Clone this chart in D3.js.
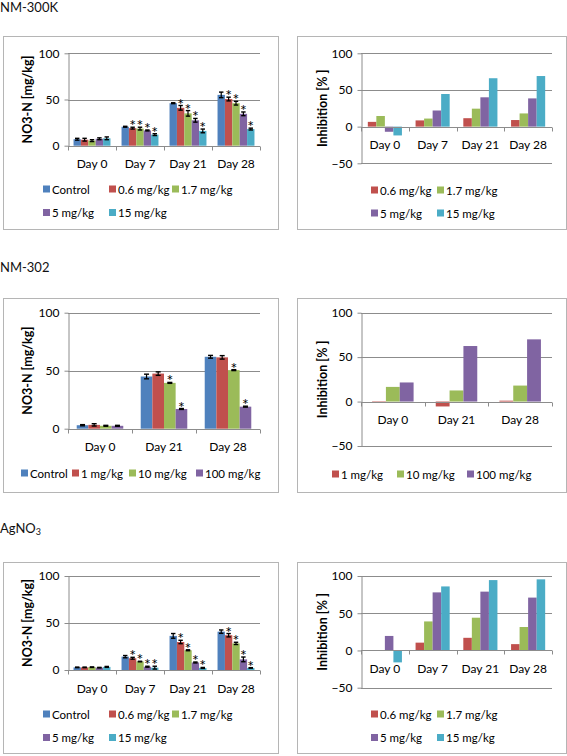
<!DOCTYPE html>
<html><head><meta charset="utf-8">
<script src="https://cdn.jsdelivr.net/npm/d3@7"></script>
<style>
html,body{margin:0;padding:0;background:#fff;}
svg{display:block;font-family:Lato,"Open Sans",sans-serif;}
</style></head><body>
<svg id="c" width="567" height="756"></svg>
<script>
// ---------- DATA ----------
const days4 = ["Day 0", "Day 7", "Day 21", "Day 28"];
const days3 = ["Day 0", "Day 21", "Day 28"];
const yTicksNO3 = [0, 50, 100];
const yTicksInh = [-50, 0, 50, 100];

// NM-300K, NO3-N [mg/kg]
const nm300kSeries = ["Control", "0.6 mg/kg", "1.7 mg/kg", "5 mg/kg", "15 mg/kg"];
const nm300kNO3 = [
  [7, 20.5, 46, 55],
  [6.5, 19, 41, 50.5],
  [5.5, 18.5, 35, 46],
  [7.5, 16.5, 27.5, 34.5],
  [8, 12, 16, 18]
];
const nm300kErr = [
  [1, 0.5, 0.5, 3],
  [1.5, 1, 2.5, 2],
  [1, 1.5, 3, 2],
  [1, 0.5, 2, 2],
  [1.5, 1, 2, 1]
];
const nm300kStars = [
  [0, 0, 0, 0],
  [0, 1, 1, 1],
  [0, 1, 1, 1],
  [0, 1, 1, 1],
  [0, 1, 1, 1]
];
// NM-300K, Inhibition [%]
const nm300kInhSeries = ["0.6 mg/kg", "1.7 mg/kg", "5 mg/kg", "15 mg/kg"];
const nm300kInh = [
  [6.5, 8.5, 11.5, 9],
  [14.5, 11, 24.5, 18],
  [-7, 22, 40, 38.5],
  [-12, 44.5, 66, 69]
];

// NM-302, NO3-N [mg/kg]
const nm302Series = ["Control", "1 mg/kg", "10 mg/kg", "100 mg/kg"];
const nm302NO3 = [
  [3, 45, 62],
  [3.3, 47.5, 61.5],
  [2.5, 39.5, 50.5],
  [2.5, 17, 19]
];
const nm302Err = [
  [0.5, 2, 1.2],
  [1, 1.5, 1.5],
  [0.4, 0.4, 0.4],
  [0.4, 0.4, 0.4]
];
const nm302Stars = [
  [0, 0, 0],
  [0, 0, 0],
  [0, 1, 1],
  [0, 1, 1]
];
// NM-302, Inhibition [%]
const nm302InhSeries = ["1 mg/kg", "10 mg/kg", "100 mg/kg"];
const nm302Inh = [
  [-1.5, -5.5, 1],
  [16.5, 12.5, 18],
  [21.5, 62.5, 70]
];

// AgNO3, NO3-N [mg/kg]
const agSeries = ["Control", "0.6 mg/kg", "1.7 mg/kg", "5 mg/kg", "15 mg/kg"];
const agNO3 = [
  [2.8, 14.2, 36.3, 40.8],
  [2.8, 12.5, 29.8, 37],
  [3, 9, 21, 28.3],
  [2.5, 3.5, 8, 11.3],
  [3.3, 2.5, 2.2, 2.2]
];
const agErr = [
  [0.3, 1.2, 2.5, 1.8],
  [0.3, 1, 1.8, 1.8],
  [0.3, 0.3, 0.5, 1.2],
  [0.3, 0.5, 0.5, 2.5],
  [0.5, 1.5, 0.5, 0.3]
];
const agStars = [
  [0, 0, 0, 0],
  [0, 1, 1, 1],
  [0, 1, 1, 1],
  [0, 1, 1, 1],
  [0, 1, 1, 1]
];
// AgNO3, Inhibition [%]
const agInhSeries = ["0.6 mg/kg", "1.7 mg/kg", "5 mg/kg", "15 mg/kg"];
const agInh = [
  [0, 10.5, 17, 8.5],
  [0, 39, 44, 31.5],
  [19.5, 78, 79, 71],
  [-16, 86, 94.5, 95.5]
];

const colorOf = {
  "Control": "#4F81BD",
  "0.6 mg/kg": "#C0504D", "1 mg/kg": "#C0504D",
  "1.7 mg/kg": "#9BBB59", "10 mg/kg": "#9BBB59",
  "5 mg/kg": "#8064A2", "100 mg/kg": "#8064A2",
  "15 mg/kg": "#4BACC6"
};

// ---------- DRAW ----------
const svg = d3.select("#c");
const FS = 12;
const LFS = 11.5;
const GRID = "#8c8c8c";

function title(x, y, parts) {
  const t = svg.append("text").attr("x", x).attr("y", y).attr("font-size", 13).attr("fill", "#111");
  parts.forEach(p => {
    const s = t.append("tspan").text(p.t);
    if (p.sub) s.attr("font-size", 9).attr("dy", 2.5);
  });
}

function panel(cfg) {
  const g = svg.append("g");
  const [bx0, by0, bx1, by1] = cfg.box;
  g.append("rect").attr("x", bx0 + 0.5).attr("y", by0 + 0.5)
    .attr("width", bx1 - bx0).attr("height", by1 - by0)
    .attr("fill", "#fff").attr("stroke", "#b5b5b5").attr("stroke-width", 1);

  const x = d3.scaleBand().domain(cfg.cats).range([cfg.x0, cfg.x1]);
  const n = cfg.series.length;
  const bw = x.bandwidth();
  const w = bw / (n + cfg.gap);
  const xi = d3.scaleBand().domain(cfg.series).range([w * cfg.gap / 2, bw - w * cfg.gap / 2]);
  const y = d3.scaleLinear().domain(cfg.domain).range([cfg.yb, cfg.yt]);

  // gridlines
  g.selectAll(".grid").data(cfg.ticks.filter(t => t !== 0)).enter().append("line")
    .attr("x1", cfg.x0).attr("x2", cfg.x1)
    .attr("y1", d => Math.round(y(d)) + 0.5).attr("y2", d => Math.round(y(d)) + 0.5)
    .attr("stroke", GRID).attr("stroke-width", 1);

  // bars
  cfg.series.forEach((s, si) => {
    g.selectAll(null).data(cfg.values[si]).enter().append("rect")
      .attr("x", (d, i) => x(cfg.cats[i]) + xi(s))
      .attr("width", xi.bandwidth())
      .attr("y", d => y(Math.max(0, d)))
      .attr("height", d => Math.abs(y(d) - y(0)))
      .attr("fill", colorOf[s]);
  });

  // y axis
  const ya = g.append("g").attr("transform", `translate(${Math.round(cfg.x0) + 0.5},0)`)
    .call(d3.axisLeft(y).tickValues(cfg.ticks).tickSizeInner(4).tickSizeOuter(0).tickPadding(5));
  ya.select(".domain").attr("stroke", GRID);
  ya.selectAll(".tick line").attr("stroke", GRID);
  ya.selectAll(".tick text").attr("font-size", FS).attr("fill", "#000").attr("font-family", "Lato");

  // x axis line at 0
  const y0 = Math.round(y(0)) + 0.5;
  g.append("line").attr("x1", cfg.x0).attr("x2", cfg.x1).attr("y1", y0).attr("y2", y0)
    .attr("stroke", GRID);
  const bounds = cfg.cats.map(c => x(c)).concat([cfg.x1]);
  g.selectAll(null).data(bounds).enter().append("line")
    .attr("x1", d => Math.round(d) + 0.5).attr("x2", d => Math.round(d) + 0.5)
    .attr("y1", y0).attr("y2", y0 + 4).attr("stroke", GRID);
  g.selectAll(null).data(cfg.cats).enter().append("text")
    .attr("x", d => x(d) + bw / 2).attr("y", y(0) + 18)
    .attr("text-anchor", "middle").attr("dominant-baseline", "central")
    .attr("font-size", FS).attr("fill", "#000").text(d => d);

  // error bars & stars
  if (cfg.errors) {
    cfg.series.forEach((s, si) => {
      cfg.values[si].forEach((v, i) => {
        const e = cfg.errors[si][i];
        const cx = x(cfg.cats[i]) + xi(s) + xi.bandwidth() / 2;
        const cw = Math.min(5, xi.bandwidth() * 0.6);
        g.append("line").attr("x1", cx).attr("x2", cx).attr("y1", y(v - e)).attr("y2", y(v + e))
          .attr("stroke", "#000").attr("stroke-width", 1.2);
        [v - e, v + e].forEach(yy => g.append("line").attr("x1", cx - cw / 2).attr("x2", cx + cw / 2)
          .attr("y1", y(yy)).attr("y2", y(yy)).attr("stroke", "#000").attr("stroke-width", 1.4));
        if (cfg.stars && cfg.stars[si][i]) {
          g.append("text").attr("x", cx).attr("y", y(v + e) + 4)
            .attr("text-anchor", "middle").attr("font-size", 16).attr("fill", "#000").text("*");
        }
      });
    });
  }

  // y title
  g.append("text").attr("transform", `translate(${cfg.titleX},${(cfg.yt + cfg.yb) / 2}) rotate(-90)`)
    .attr("text-anchor", "middle").attr("dominant-baseline", "central")
    .attr("font-size", 12.5).attr("font-weight", "bold").attr("fill", "#000").text(cfg.yTitle);

  // legend
  cfg.legend.forEach(row => {
    row.items.forEach(it => {
      g.append("rect").attr("x", it.x).attr("y", row.y - 3.5).attr("width", 7).attr("height", 7)
        .attr("fill", colorOf[it.s]);
      g.append("text").attr("x", it.x + 9).attr("y", row.y).attr("dominant-baseline", "central")
        .attr("font-size", LFS).attr("fill", "#000").text(it.s);
    });
  });
}

// titles
title(0, 11.5, [{t: "NM-300K"}]);
title(0, 272, [{t: "NM-302"}]);
title(0, 532.5, [{t: "AgNO"}, {t: "3", sub: true}]);

// NM-300K
panel({
  box: [3, 36, 278, 229], x0: 68, x1: 260, yt: 53.3, yb: 145.7,
  cats: days4, series: nm300kSeries, values: nm300kNO3, errors: nm300kErr, stars: nm300kStars,
  domain: [0, 100], ticks: yTicksNO3, gap: 1.5, titleX: 27, yTitle: "NO3-N [mg/kg]",
  legend: [
    {y: 189, items: [{s: "Control", x: 43}, {s: "0.6 mg/kg", x: 109}, {s: "1.7 mg/kg", x: 172}]},
    {y: 212.5, items: [{s: "5 mg/kg", x: 43}, {s: "15 mg/kg", x: 109}]}
  ]
});
panel({
  box: [297, 36, 566, 229], x0: 361, x1: 552, yt: 53.3, yb: 163.3,
  cats: days4, series: nm300kInhSeries, values: nm300kInh,
  domain: [-50, 100], ticks: yTicksInh, gap: 1.6, titleX: 322, yTitle: "Inhibition [% ]",
  legend: [
    {y: 190, items: [{s: "0.6 mg/kg", x: 371}, {s: "1.7 mg/kg", x: 437}]},
    {y: 213, items: [{s: "5 mg/kg", x: 371}, {s: "15 mg/kg", x: 437}]}
  ]
});
// NM-302
panel({
  box: [3, 298, 278, 492], x0: 68, x1: 260, yt: 312.7, yb: 428.7,
  cats: days3, series: nm302Series, values: nm302NO3, errors: nm302Err, stars: nm302Stars,
  domain: [0, 100], ticks: yTicksNO3, gap: 1.5, titleX: 27, yTitle: "NO3-N [mg/kg]",
  legend: [
    {y: 473, items: [{s: "Control", x: 21}, {s: "1 mg/kg", x: 72}, {s: "10 mg/kg", x: 129}, {s: "100 mg/kg", x: 196}]}
  ]
});
panel({
  box: [297, 298, 566, 492], x0: 361, x1: 552, yt: 312.7, yb: 446,
  cats: days3, series: nm302InhSeries, values: nm302Inh,
  domain: [-50, 100], ticks: yTicksInh, gap: 1.6, titleX: 322, yTitle: "Inhibition [% ]",
  legend: [
    {y: 474, items: [{s: "1 mg/kg", x: 332}, {s: "10 mg/kg", x: 397}, {s: "100 mg/kg", x: 467}]}
  ]
});
// AgNO3
panel({
  box: [3, 562, 278, 753], x0: 68, x1: 260, yt: 576, yb: 670,
  cats: days4, series: agSeries, values: agNO3, errors: agErr, stars: agStars,
  domain: [0, 100], ticks: yTicksNO3, gap: 1.5, titleX: 27, yTitle: "NO3-N [mg/kg]",
  legend: [
    {y: 714, items: [{s: "Control", x: 43}, {s: "0.6 mg/kg", x: 109}, {s: "1.7 mg/kg", x: 172}]},
    {y: 737.5, items: [{s: "5 mg/kg", x: 43}, {s: "15 mg/kg", x: 109}]}
  ]
});
panel({
  box: [297, 562, 566, 753], x0: 361, x1: 552, yt: 576, yb: 687.7,
  cats: days4, series: agInhSeries, values: agInh,
  domain: [-50, 100], ticks: yTicksInh, gap: 1.6, titleX: 322, yTitle: "Inhibition [% ]",
  legend: [
    {y: 714, items: [{s: "0.6 mg/kg", x: 371}, {s: "1.7 mg/kg", x: 437}]},
    {y: 737.5, items: [{s: "5 mg/kg", x: 371}, {s: "15 mg/kg", x: 437}]}
  ]
});
</script>
</body></html>
